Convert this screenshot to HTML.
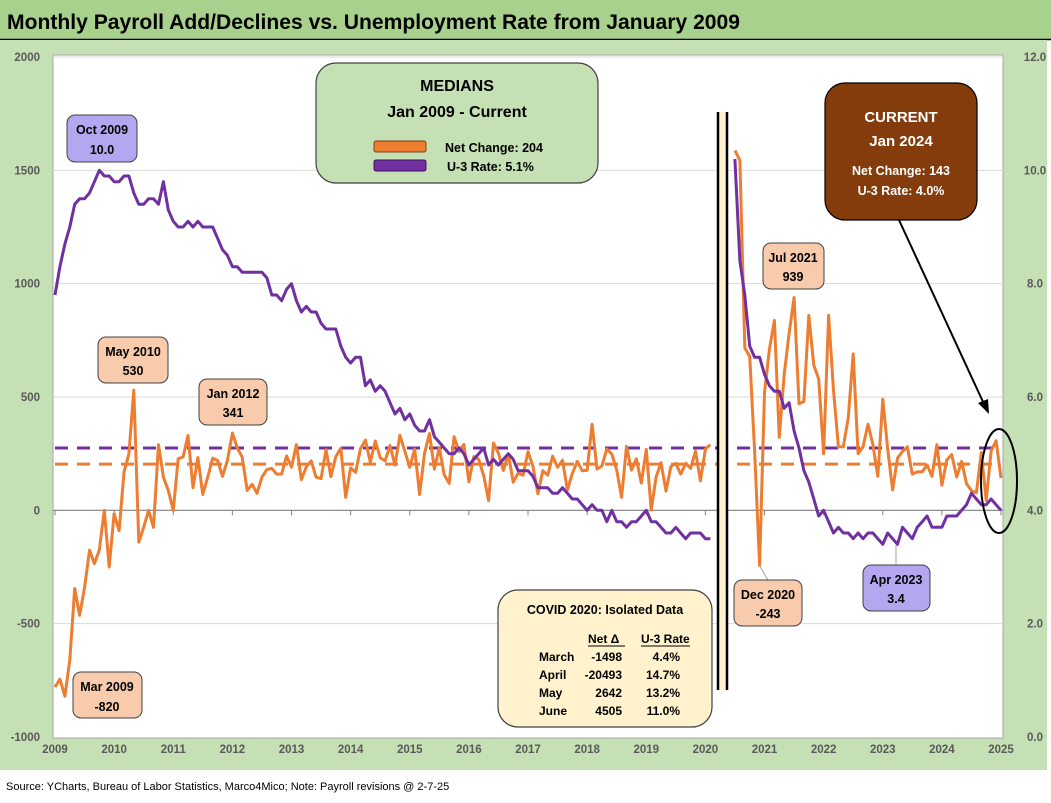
<!DOCTYPE html>
<html><head><meta charset="utf-8"><style>
html,body{margin:0;padding:0;background:#fff;}
body{width:1051px;height:798px;position:relative;overflow:hidden;font-family:"Liberation Sans",sans-serif;}
svg text{font-family:"Liberation Sans",sans-serif;}
</style></head><body>
<svg id="chart" width="1051" height="798" viewBox="0 0 1051 798" xmlns="http://www.w3.org/2000/svg">
<rect x="0" y="0" width="1051" height="798" fill="#ffffff"/>
<rect x="0" y="0" width="1051" height="39" fill="#a9d18e"/>
<line x1="0" y1="39.5" x2="1051" y2="39.5" stroke="#000" stroke-width="1.5"/>
<rect x="0" y="40" width="1047" height="730" fill="#c5e0b4"/>
<text x="7" y="29" font-size="21" font-weight="bold" fill="#000" textLength="733" lengthAdjust="spacingAndGlyphs">Monthly Payroll Add/Declines vs. Unemployment Rate from January 2009</text>
<rect x="53" y="55" width="950" height="683" fill="#fff" stroke="#a6a6a6" stroke-width="1"/>
<g id="grid"></g>
<g id="axes"></g>
<g id="medians"></g>
<rect x="718" y="112" width="9" height="578" fill="#fff2cc"/>
<line x1="718" y1="112" x2="718" y2="690" stroke="#000" stroke-width="2.5"/>
<line x1="727" y1="112" x2="727" y2="690" stroke="#000" stroke-width="2.5"/>
<g id="series"></g>
<g id="annotations">
 <g>
  <rect x="67" y="115" width="70" height="47" rx="8" fill="#b4a7f0" stroke="#404040"/>
  <text x="102" y="134" font-size="12.5" font-weight="bold" text-anchor="middle">Oct 2009</text>
  <text x="102" y="154" font-size="12.5" font-weight="bold" text-anchor="middle">10.0</text>
 </g>
 <g>
  <rect x="98" y="337" width="70" height="46" rx="8" fill="#f8cbad" stroke="#404040"/>
  <text x="133" y="356" font-size="12.5" font-weight="bold" text-anchor="middle">May 2010</text>
  <text x="133" y="375" font-size="12.5" font-weight="bold" text-anchor="middle">530</text>
 </g>
 <g>
  <rect x="199" y="379" width="68" height="46" rx="8" fill="#f8cbad" stroke="#404040"/>
  <text x="233" y="398" font-size="12.5" font-weight="bold" text-anchor="middle">Jan 2012</text>
  <text x="233" y="417" font-size="12.5" font-weight="bold" text-anchor="middle">341</text>
 </g>
 <g>
  <rect x="73" y="672" width="69" height="46" rx="8" fill="#f8cbad" stroke="#404040"/>
  <text x="107" y="691" font-size="12.5" font-weight="bold" text-anchor="middle">Mar 2009</text>
  <text x="107" y="711" font-size="12.5" font-weight="bold" text-anchor="middle">-820</text>
 </g>
 <g>
  <rect x="316" y="63" width="282" height="120" rx="20" fill="#c5e0b4" stroke="#404040" stroke-width="1.2"/>
  <text x="457" y="91" font-size="16" font-weight="bold" text-anchor="middle">MEDIANS</text>
  <text x="457" y="117" font-size="16" font-weight="bold" text-anchor="middle">Jan 2009 - Current</text>
  <rect x="374" y="141" width="52" height="11" rx="2" fill="#ed7d31" stroke="#7f3f10"/>
  <rect x="374" y="160" width="52" height="11" rx="2" fill="#7030a0" stroke="#3c1060"/>
  <text x="445" y="152" font-size="12.5" font-weight="bold">Net Change: 204</text>
  <text x="447" y="171" font-size="12.5" font-weight="bold">U-3 Rate: 5.1%</text>
 </g>
 <g>
  <rect x="825" y="83" width="152" height="137" rx="20" fill="#843c0c" stroke="#000" stroke-width="1.2"/>
  <text x="901" y="122" font-size="15" font-weight="bold" text-anchor="middle" fill="#fff">CURRENT</text>
  <text x="901" y="146" font-size="15" font-weight="bold" text-anchor="middle" fill="#fff">Jan 2024</text>
  <text x="901" y="175" font-size="12.5" font-weight="bold" text-anchor="middle" fill="#fff">Net Change: 143</text>
  <text x="901" y="195" font-size="12.5" font-weight="bold" text-anchor="middle" fill="#fff">U-3 Rate: 4.0%</text>
 </g>
 <line x1="899" y1="220" x2="984" y2="404" stroke="#000" stroke-width="2"/>
 <polygon points="989,414 978,403 988,399" fill="#000"/>
 <ellipse cx="999" cy="481" rx="18" ry="52" fill="none" stroke="#000" stroke-width="2"/>
 <g>
  <rect x="763" y="243" width="61" height="46" rx="8" fill="#f8cbad" stroke="#404040"/>
  <text x="793" y="262" font-size="12.5" font-weight="bold" text-anchor="middle">Jul 2021</text>
  <text x="793" y="281" font-size="12.5" font-weight="bold" text-anchor="middle">939</text>
 </g>
 <line x1="759" y1="565" x2="768" y2="580" stroke="#a6a6a6"/>
 <g>
  <rect x="734" y="580" width="68" height="46" rx="8" fill="#f8cbad" stroke="#404040"/>
  <text x="768" y="599" font-size="12.5" font-weight="bold" text-anchor="middle">Dec 2020</text>
  <text x="768" y="618" font-size="12.5" font-weight="bold" text-anchor="middle">-243</text>
 </g>
 <line x1="896" y1="545" x2="896" y2="565" stroke="#a6a6a6"/>
 <g>
  <rect x="863" y="565" width="67" height="46" rx="8" fill="#b4a7f0" stroke="#404040"/>
  <text x="896" y="584" font-size="12.5" font-weight="bold" text-anchor="middle">Apr 2023</text>
  <text x="896" y="603" font-size="12.5" font-weight="bold" text-anchor="middle">3.4</text>
 </g>
 <g font-size="12" font-weight="bold">
  <rect x="498" y="590" width="214" height="137" rx="20" fill="#fff2cc" stroke="#404040" stroke-width="1.2"/>
  <text x="605" y="614" font-size="12.5" text-anchor="middle">COVID 2020:  Isolated Data</text>
  <text x="588" y="643">Net  Δ</text>
  <line x1="588" y1="646" x2="625" y2="646" stroke="#000"/>
  <text x="641" y="643">U-3 Rate</text>
  <line x1="641" y1="646" x2="690" y2="646" stroke="#000"/>
  <text x="539" y="661">March</text><text x="622" y="661" text-anchor="end">-1498</text><text x="680" y="661" text-anchor="end">4.4%</text>
  <text x="539" y="679">April</text><text x="622" y="679" text-anchor="end">-20493</text><text x="680" y="679" text-anchor="end">14.7%</text>
  <text x="539" y="697">May</text><text x="622" y="697" text-anchor="end">2642</text><text x="680" y="697" text-anchor="end">13.2%</text>
  <text x="539" y="715">June</text><text x="622" y="715" text-anchor="end">4505</text><text x="680" y="715" text-anchor="end">11.0%</text>
 </g>
</g>
<text x="6" y="790" font-size="11" fill="#000">Source: YCharts, Bureau of Labor Statistics, Marco4Mico; Note: Payroll revisions @ 2-7-25</text>
</svg>
<script>
// Monthly payroll change (thousands), Jan 2009 - Feb 2020
const payrollPre = [
-780,-745,-820,-660,-345,-463,-340,-176,-235,-176,0,-250,
-15,-90,168,250,530,-140,-75,0,-75,290,146,88,
0,228,235,330,100,233,70,146,230,220,150,220,
341,275,235,88,115,75,146,180,185,160,160,240,
190,290,135,192,218,146,140,268,149,237,274,57,
187,168,272,310,213,306,232,218,286,200,331,261,
190,271,70,251,339,182,277,157,119,325,260,291,
126,237,225,153,43,297,252,176,249,124,164,155,
259,195,73,175,155,239,190,221,90,162,216,175,
176,380,182,196,270,248,178,57,282,177,227,120,
269,1,147,210,85,194,207,160,208,185,261,130,
270,290];
// Jul 2020 - Jan 2025
const payrollPost = [
1588,1544,716,680,264,-243,
520,710,838,322,600,780,939,470,480,860,640,580,
250,860,530,280,280,410,690,250,280,380,290,150,
490,270,90,230,260,280,160,170,170,200,150,290,
111,222,246,147,216,118,87,78,255,44,261,307,
143];
// U-3 unemployment rate (%), Jan 2009 - Feb 2020
const u3Pre = [
7.8,8.3,8.7,9.0,9.4,9.5,9.5,9.6,9.8,10.0,9.9,9.9,
9.8,9.8,9.9,9.9,9.6,9.4,9.4,9.5,9.5,9.4,9.8,9.3,
9.1,9.0,9.0,9.1,9.0,9.1,9.0,9.0,9.0,8.8,8.6,8.5,
8.3,8.3,8.2,8.2,8.2,8.2,8.2,8.1,7.8,7.8,7.7,7.9,
8.0,7.7,7.5,7.6,7.5,7.5,7.3,7.2,7.2,7.2,6.9,6.7,
6.6,6.7,6.7,6.2,6.3,6.1,6.2,6.1,5.9,5.7,5.8,5.6,
5.7,5.5,5.4,5.4,5.6,5.3,5.2,5.1,5.0,5.0,5.1,5.0,
4.8,4.9,5.0,5.1,4.8,4.9,4.8,4.9,5.0,4.9,4.7,4.7,
4.7,4.6,4.4,4.4,4.4,4.3,4.3,4.4,4.3,4.2,4.2,4.1,
4.0,4.1,4.0,4.0,3.8,4.0,3.8,3.8,3.7,3.8,3.8,3.9,
4.0,3.8,3.8,3.7,3.6,3.6,3.7,3.6,3.5,3.6,3.6,3.6,
3.5,3.5];
const u3Post = [
10.2,8.4,7.8,6.9,6.7,6.7,
6.4,6.2,6.1,6.1,5.8,5.9,5.4,5.1,4.7,4.5,4.2,3.9,
4.0,3.8,3.6,3.7,3.6,3.6,3.5,3.6,3.5,3.6,3.6,3.5,
3.4,3.6,3.5,3.4,3.7,3.6,3.5,3.7,3.8,3.9,3.7,3.7,
3.7,3.9,3.9,3.9,4.0,4.1,4.3,4.2,4.1,4.1,4.2,4.1,
4.0];
const medianPayroll = 204;
const medianU3 = 5.1;
const leftTicks = [2000,1500,1000,500,0,-500,-1000];
const rightTicks = [12.0,10.0,8.0,6.0,4.0,2.0,0.0];
const yearLabels = [2009,2010,2011,2012,2013,2014,2015,2016,2017,2018,2019,2020,2021,2022,2023,2024,2025];
const postStartMonth = 138; // Jul 2020 index from Jan 2009

const NS = "http://www.w3.org/2000/svg";
const X0 = 55, X1 = 1001, YT = 57, YB = 737;
function xm(m){ return X0 + m * (X1 - X0) / 192; }
function yL(v){ return YB - (v + 1000) * (YB - YT) / 3000; }
function yR(v){ return YB - v * (YB - YT) / 12; }
function mk(tag, attrs, parent){
  const e = document.createElementNS(NS, tag);
  for (const k in attrs) e.setAttribute(k, attrs[k]);
  parent.appendChild(e);
  return e;
}
const grid = document.getElementById('grid');
const axes = document.getElementById('axes');
leftTicks.forEach(function(t){
  const y = yL(t);
  if (t !== 0 && t !== -1000) {
    const g = mk('line', {x1:53, x2:1003, y1:y, y2:y, stroke:'#d9d9d9', 'stroke-width':1}, grid);
    
    
  }
  const tx = mk('text', {x:40, y:y+4, 'font-size':11.5, 'font-weight':'bold', fill:'#595959', 'text-anchor':'end'}, axes);
  tx.textContent = t;
  
  
});
rightTicks.forEach(function(t){
  const y = yR(t);
  const tx = mk('text', {x:1035, y:y+4, 'font-size':11.5, 'font-weight':'bold', fill:'#595959', 'text-anchor':'middle'}, axes);
  tx.textContent = t.toFixed(1);
  
  
});
const zl = mk('line', {x1:53, x2:1003, y1:yL(0), y2:yL(0), stroke:'#808080', 'stroke-width':1.2}, axes);


yearLabels.forEach(function(yr, i){
  const x = xm(i * 12);
  const tk = mk('line', {x1:x, x2:x, y1:yL(0), y2:yL(0)+5, stroke:'#808080'}, axes);
  
  
  const tx = mk('text', {x:x, y:753, 'font-size':11.5, 'font-weight':'bold', fill:'#595959', 'text-anchor':'middle'}, axes);
  tx.textContent = yr;
  
  
});
const med = document.getElementById('medians');
const mu = mk('line', {x1:55, x2:1001, y1:yR(medianU3), y2:yR(medianU3), stroke:'#7030a0', 'stroke-width':3, 'stroke-dasharray':'13 9'}, med);


const mp = mk('line', {x1:55, x2:1001, y1:yL(medianPayroll), y2:yL(medianPayroll), stroke:'#ed7d31', 'stroke-width':3, 'stroke-dasharray':'13 9'}, med);



const series = document.getElementById('series');
function pts(arr, start, yf){
  return arr.map(function(v, i){ return xm(start + i).toFixed(1) + ',' + yf(v).toFixed(1); }).join(' ');
}
const p1 = mk('polyline', {points:pts(payrollPre, 0, yL), fill:'none', stroke:'#ed7d31', 'stroke-width':3, 'stroke-linejoin':'round'}, series);


const u1 = mk('polyline', {points:pts(u3Pre, 0, yR), fill:'none', stroke:'#7030a0', 'stroke-width':3, 'stroke-linejoin':'round'}, series);


const p2 = mk('polyline', {points:pts(payrollPost, postStartMonth, yL), fill:'none', stroke:'#ed7d31', 'stroke-width':3, 'stroke-linejoin':'round'}, series);


const u2 = mk('polyline', {points:pts(u3Post, postStartMonth, yR), fill:'none', stroke:'#7030a0', 'stroke-width':3, 'stroke-linejoin':'round'}, series);


</script>
</body></html>
